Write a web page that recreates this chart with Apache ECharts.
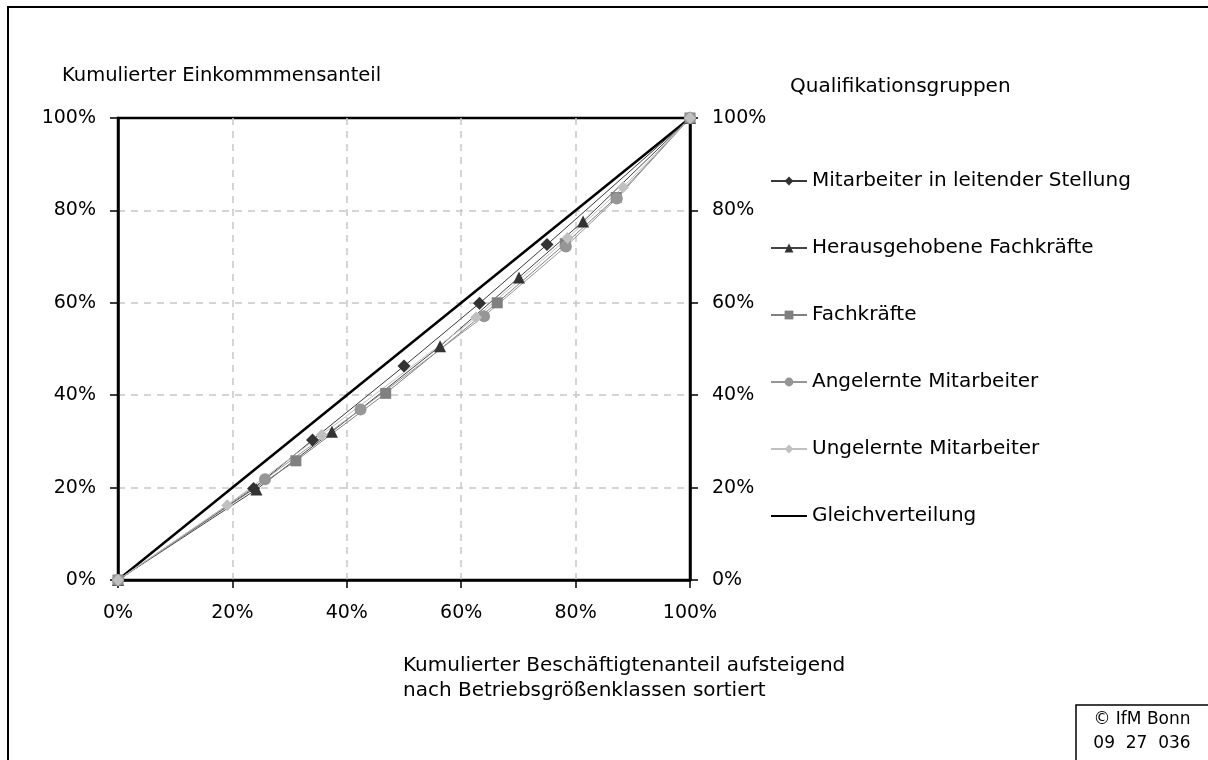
<!DOCTYPE html>
<html>
<head>
<meta charset="utf-8">
<script src="https://cdn.jsdelivr.net/npm/echarts/dist/echarts.min.js"></script>
<style>
  html, body { margin: 0; padding: 0; background: #fff; }
  #main { width: 1208px; height: 760px; }
</style>
</head>
<body>
<div id="main"></div>
<script>
// Werte in Prozent (x = kumulierter Beschäftigtenanteil, y = kumulierter Einkommensanteil)
var leitendeX = [0, 23.7, 34.0, 50.0, 63.2, 75.0, 100];
var leitendeY = [0, 19.8, 30.3, 46.3, 59.9, 72.6, 100];

var herausX = [0, 24.2, 37.4, 56.3, 70.1, 81.3, 100];
var herausY = [0, 19.6, 32.1, 50.6, 65.5, 77.6, 100];

var fachX = [0, 31.1, 46.8, 66.3, 78.2, 87.1, 100];
var fachY = [0, 25.8, 40.4, 60.0, 72.8, 82.8, 100];

var angelerntX = [0, 25.7, 42.4, 64.0, 78.3, 87.2, 100];
var angelerntY = [0, 21.8, 36.9, 57.1, 72.2, 82.6, 100];

var ungelerntX = [0, 19.1, 35.6, 62.6, 78.6, 88.3, 100];
var ungelerntY = [0, 16.2, 31.4, 56.8, 74.0, 85.0, 100];

var gleichX = [0, 100];
var gleichY = [0, 100];

var seriesNames = [
    'Mitarbeiter in leitender Stellung',
    'Herausgehobene Fachkräfte',
    'Fachkräfte',
    'Angelernte Mitarbeiter',
    'Ungelernte Mitarbeiter',
    'Gleichverteilung'
];

var FONT = 'DejaVu Sans';

// x/y Arrays zu Punktpaaren
const toPairs = (xs, ys) => xs.map((x, i) => [x, ys[i]]);

const groupSeries = (name, xs, ys, symbol, size, color, lineColor) => ({
    name: name,
    type: 'line',
    data: toPairs(xs, ys),
    symbol: symbol,
    symbolSize: size,
    showAllSymbol: true,
    itemStyle: { color: color },
    lineStyle: { color: lineColor, width: 1 },
    emphasis: { disabled: true },
    animation: false
});

var myChart = echarts.init(document.getElementById('main'));

const pctAxisLabel = {
    formatter: '{value}%',
    fontFamily: FONT,
    fontSize: 19,
    color: '#000'
};

const option = {
    backgroundColor: '#fff',
    textStyle: { fontFamily: FONT },
    title: [
        {
            text: 'Kumulierter Einkommmensanteil',
            left: 62, top: 66, padding: 0,
            textStyle: { fontFamily: FONT, fontSize: 19.5, fontWeight: 'normal', color: '#000' }
        },
        {
            text: 'Qualifikationsgruppen',
            left: 790, top: 77, padding: 0,
            textStyle: { fontFamily: FONT, fontSize: 20, fontWeight: 'normal', color: '#000' }
        },
        {
            text: 'Kumulierter Beschäftigtenanteil aufsteigend\nnach Betriebsgrößenklassen sortiert',
            left: 403, top: 653, padding: 0,
            textStyle: { fontFamily: FONT, fontSize: 20, fontWeight: 'normal', color: '#000', lineHeight: 25 }
        }
    ],
    legend: {
        orient: 'vertical',
        left: 770,
        top: 171,
        padding: 0,
        itemWidth: 36,
        itemHeight: 11,
        itemGap: 47,
        data: [
            seriesNames[0], seriesNames[1], seriesNames[2], seriesNames[3], seriesNames[4],
            { name: seriesNames[5], itemStyle: { opacity: 0 } }
        ],
        selectedMode: false,
        textStyle: { fontFamily: FONT, fontSize: 20, color: '#000', lineHeight: 20 }
    },
    grid: {
        left: 118,
        right: 518,
        top: 118,
        bottom: 180,
        show: true,
        borderColor: '#000',
        borderWidth: 2.5,
        containLabel: false,
        outerBoundsMode: 'none'
    },
    xAxis: {
        type: 'value',
        min: 0,
        max: 100,
        interval: 20,
        axisLine: { show: true, lineStyle: { color: '#000', width: 2.5 } },
        axisTick: { show: true, length: 8, lineStyle: { color: '#000', width: 1.5 } },
        axisLabel: Object.assign({ margin: 24 }, pctAxisLabel),
        splitLine: {
            show: true,
            showMinLine: false,
            showMaxLine: false,
            lineStyle: { color: '#c8c8c8', type: [7, 6], width: 1.5 }
        }
    },
    yAxis: [
        {
            type: 'value',
            min: 0,
            max: 100,
            interval: 20,
            position: 'left',
            axisLine: { show: true, lineStyle: { color: '#000', width: 2.5 } },
            axisTick: { show: true, length: 8, lineStyle: { color: '#000', width: 1.5 } },
            axisLabel: Object.assign({ margin: 22 }, pctAxisLabel),
            splitLine: {
                show: true,
                showMinLine: false,
                showMaxLine: false,
                lineStyle: { color: '#c8c8c8', type: [7, 6], width: 1.5 }
            }
        },
        {
            type: 'value',
            min: 0,
            max: 100,
            interval: 20,
            position: 'right',
            axisLine: { show: true, lineStyle: { color: '#000', width: 2.5 } },
            axisTick: { show: true, length: 8, lineStyle: { color: '#000', width: 1.5 } },
            axisLabel: Object.assign({ margin: 22 }, pctAxisLabel),
            splitLine: { show: false }
        }
    ],
    series: [
        {
            name: 'Gleichverteilung',
            type: 'line',
            data: toPairs(gleichX, gleichY),
            symbol: 'none',
            itemStyle: { color: '#000' },
            lineStyle: { color: '#000', width: 2.5 },
            emphasis: { disabled: true },
            animation: false
        },
        groupSeries(seriesNames[0], leitendeX, leitendeY, 'diamond', 13, '#333333', '#3a3a3a'),
        groupSeries(seriesNames[1], herausX, herausY, 'triangle', 12, '#333333', '#444444'),
        groupSeries(seriesNames[2], fachX, fachY, 'rect', 11, '#808080', '#808080'),
        groupSeries(seriesNames[3], angelerntX, angelerntY, 'circle', 12, '#969696', '#969696'),
        groupSeries(seriesNames[4], ungelerntX, ungelerntY, 'diamond', 12, '#c0c0c0', '#c0c0c0')
    ],
    graphic: [
        {
            // Rahmen um die ganze Grafik
            type: 'rect',
            shape: { x: 8, y: 7, width: 1260, height: 820 },
            style: { fill: 'none', stroke: '#000', lineWidth: 2 },
            silent: true
        },
        {
            type: 'rect',
            shape: { x: 1076, y: 705, width: 200, height: 100 },
            style: { fill: '#fff', stroke: '#000', lineWidth: 1.5 },
            silent: true
        },
        {
            type: 'text',
            x: 1142, y: 720,
            style: { text: '© IfM Bonn', font: '17px "DejaVu Sans"', fill: '#000', textAlign: 'center', textVerticalAlign: 'middle' },
            silent: true
        },
        {
            type: 'text',
            x: 1142, y: 744,
            style: { text: '09  27  036', font: '17px "DejaVu Sans"', fill: '#000', textAlign: 'center', textVerticalAlign: 'middle' },
            silent: true
        }
    ]
};

myChart.setOption(option);
</script>
</body>
</html>
